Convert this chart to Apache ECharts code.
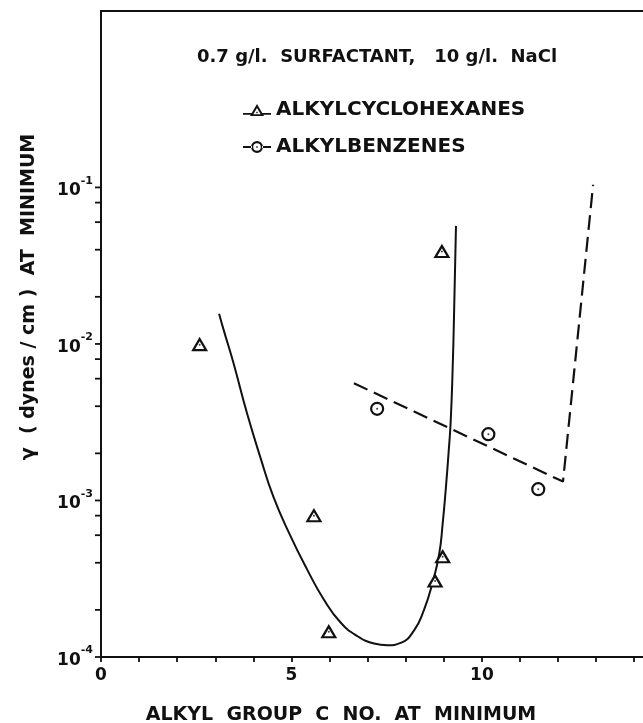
<!DOCTYPE html>
<html><head><meta charset="utf-8">
<script src="https://cdn.jsdelivr.net/npm/echarts@6/dist/echarts.min.js"></script>
<style>html,body{margin:0;padding:0;background:#fff}#c{width:643px;height:723px}</style>
</head><body><div id="c"></div>
<script>
// measured points
const cyclohexanes = [[2.59,0.0099],[5.59,0.00080],[5.98,0.000145],[8.77,0.000306],[8.97,0.000437],[8.95,0.039]];
const benzenes = [[7.25,0.00385],[10.17,0.00265],[11.48,0.00118]];
// hand-drawn fitted curves
const cycloFit = [[3.10,0.0156],[3.22,0.0123],[3.48,0.00753],[3.83,0.00363],[4.18,0.00190],[4.53,0.00105],[4.97,0.000596],[5.41,0.000363],[5.85,0.000233],[6.29,0.000166],[6.73,0.000136],[7.17,0.000122],[7.52,0.000119],[7.87,0.000123],[8.22,0.000148],[8.48,0.000200],[8.70,0.000295],[8.88,0.000457],[8.97,0.000708],[9.05,0.00117],[9.13,0.00209],[9.18,0.00316],[9.23,0.00661],[9.27,0.0158],[9.32,0.0568]];
const benzFit = [[6.64,0.00561],[12.13,0.00132],[12.92,0.104]];
// axes
const xTickValues = [0,1,2,3,4,5,6,7,8,9,10,11,12,13,14];
const xLabelValues = [0,5,10];
const yTickValues = [1e-4,2e-4,4e-4,6e-4,8e-4,1e-3,2e-3,4e-3,6e-3,8e-3,1e-2,2e-2,4e-2,6e-2,8e-2,1e-1];
const yLabelExponents = [-4,-3,-2,-1];
const seriesNames = ['ALKYLCYCLOHEXANES','ALKYLBENZENES'];
const chartTitle = '0.7 g/l.  SURFACTANT,   10 g/l.  NaCl';
const xTitle = 'ALKYL  GROUP  C  NO.  AT  MINIMUM';
const yTitle = 'γ  ( dynes / cm )  AT  MINIMUM';

const FONT = 'DejaVu Sans';
const chart = echarts.init(document.getElementById('c'), null, {renderer:'canvas'});
const triIcon = 'path://M0,9 L9.5,9 L9.5,10.8 L0,10.8 Z M18.5,9 L28,9 L28,10.8 L18.5,10.8 Z M14,0 L21,12 L7,12 Z M14,4 L10.3,10.3 L17.7,10.3 Z M13.3,7.8 L14.7,7.8 L14.7,9.2 L13.3,9.2 Z';
const cirIcon = 'path://M0,5.1 L9,5.1 L9,6.9 L0,6.9 Z M19,5.1 L28,5.1 L28,6.9 L19,6.9 Z M8,6 A6,6 0 1,0 20,6 A6,6 0 1,0 8,6 Z M10.2,6 A3.8,3.8 0 1,1 17.8,6 A3.8,3.8 0 1,1 10.2,6 Z M13.3,5.3 L14.7,5.3 L14.7,6.7 L13.3,6.7 Z';

const option = {
  animation: false,
  backgroundColor: '#fff',
  textStyle: {fontFamily: FONT},
  title: {
    text: chartTitle, left: 197, top: 47, padding: 0,
    textStyle: {fontFamily: FONT, fontWeight: 'bold', fontSize: 18, color: '#111', lineHeight: 21}
  },
  legend: {
    orient: 'vertical', left: 243, top: 100, padding: 0,
    itemWidth: 28, itemHeight: 12, itemGap: 17,
    itemStyle: {color: '#111', borderWidth: 0},
    textStyle: {fontFamily: FONT, fontWeight: 'bold', fontSize: 20, color: '#111', lineHeight: 20},
    data: [{name: seriesNames[0], icon: triIcon}, {name: seriesNames[1], icon: cirIcon}],
    selectedMode: false
  },
  grid: {left: 101, top: 11, width: 542, bottom: 66, containLabel: false},
  xAxis: [{
    type: 'value', min: 0, max: 14.23, interval: 1,
    axisLine: {show: true, onZero: false, lineStyle: {color: '#111', width: 2}},
    axisTick: {show: true, length: 5, inside: false, customValues: xTickValues, lineStyle: {color: '#111', width: 1.8}},
    axisLabel: {show: true, margin: 10, customValues: xLabelValues,
      formatter: v => (xLabelValues.indexOf(v) >= 0 ? String(v) : ''),
      fontFamily: FONT, fontWeight: 'bold', fontSize: 17, color: '#111'},
    splitLine: {show: false}
  }, {
    type: 'value', position: 'top', min: 0, max: 14.23,
    axisLine: {show: true, onZero: false, lineStyle: {color: '#111', width: 2}},
    axisTick: {show: false}, axisLabel: {show: false}, splitLine: {show: false}
  }],
  yAxis: {
    type: 'log', logBase: 10, min: 1e-4, max: 1.34,
    axisLine: {show: true, onZero: false, lineStyle: {color: '#111', width: 2}},
    axisTick: {show: false},
    axisLabel: {
      show: true, margin: 8,
      formatter: v => {
        const e = Math.log10(v), r = Math.round(e);
        if (Math.abs(e - r) > 1e-6 || yLabelExponents.indexOf(r) < 0) return '';
        return '{b|10}{s|' + r + '}';
      },
      rich: {
        b: {fontFamily: FONT, fontWeight: 'bold', fontSize: 17, color: '#111', lineHeight: 24, verticalAlign: 'bottom'},
        s: {fontFamily: FONT, fontWeight: 'bold', fontSize: 11, color: '#111', lineHeight: 24, verticalAlign: 'top'}
      }
    },
    splitLine: {show: false}
  },
  graphic: [
    {type: 'text', x: 341, y: 715, style: {text: xTitle, align: 'center', verticalAlign: 'middle', font: 'bold 19px "DejaVu Sans"', fill: '#111'}},
    {type: 'text', x: 29, y: 297, rotation: Math.PI / 2, style: {text: yTitle, align: 'center', verticalAlign: 'middle', font: 'bold 19px "DejaVu Sans"', fill: '#111'}}
  ],
  series: [
    {
      type: 'custom', name: 'yticks', silent: true, clip: false,
      data: yTickValues.map(v => [0, v]),
      renderItem: (params, api) => {
        const p = api.coord([api.value(0), api.value(1)]);
        return {type: 'line', shape: {x1: p[0] - 6, y1: p[1], x2: p[0], y2: p[1]}, style: {stroke: '#111', lineWidth: 1.8}};
      }
    },
    {
      type: 'line', name: 'cycloFit', data: cycloFit, showSymbol: false, symbol: 'none',
      smooth: 0.5, silent: true,
      lineStyle: {color: '#111', width: 2}
    },
    {
      type: 'line', name: 'benzFit', data: benzFit, showSymbol: false, symbol: 'none', silent: true,
      lineStyle: {color: '#111', width: 2.2, type: [15, 7]}
    },
    {
      type: 'scatter', name: seriesNames[0], data: cyclohexanes, symbol: 'triangle', symbolSize: [13, 11],
      itemStyle: {color: '#fff', borderColor: '#111', borderWidth: 2.2, opacity: 1}, z: 5
    },
    {
      type: 'scatter', name: seriesNames[1], data: benzenes, symbol: 'circle', symbolSize: 12,
      itemStyle: {color: '#fff', borderColor: '#111', borderWidth: 2.2, opacity: 1}, z: 5
    },
    {
      type: 'scatter', name: 'dots', data: cyclohexanes.concat(benzenes), symbol: 'circle', symbolSize: 2,
      itemStyle: {color: '#111'}, silent: true, z: 6
    }
  ]
};
chart.setOption(option);
</script></body></html>
